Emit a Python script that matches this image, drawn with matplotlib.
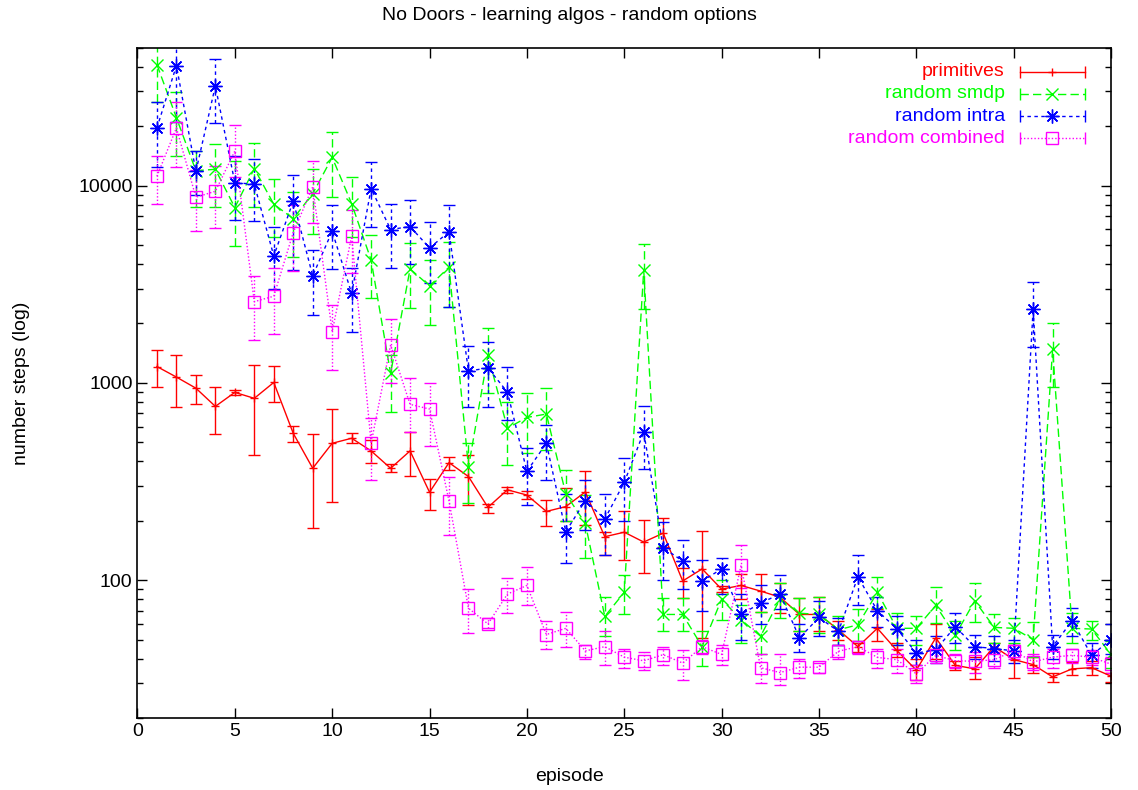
import matplotlib
matplotlib.use("Agg")
from matplotlib import pyplot as plt
from matplotlib.ticker import LogLocator, FixedLocator, NullFormatter, FuncFormatter
import numpy as np

episodes = list(range(1, 51))

# primitives
prim_mean = [1210, 1070, 940, 760, 895, 835, 1005, 555, 369, 494,
             524, 452, 369, 452, 279, 394, 335, 234, 287, 270,
             223, 236, 280, 166, 175, 156, 173, 99, 114, 90,
             94, 88, 82, 67, 67, 56, 46, 57, 44, 35,
             51, 37, 35.5, 46, 39.6, 37.3, 32.3, 35.5, 36, 32.6]
prim_lo = [957, 757, 778, 553, 866, 431, 797, 504, 183, 249,
           494, 391, 353, 336, 226, 363, 239, 218, 276, 258,
           188, 200, 191, 134, 126, 109, 148, 81, 51, 87,
           80, 69, 68, 55, 55, 50, 43, 49, 41, 31,
           40, 35, 31.5, 43, 32, 34, 30.5, 33, 33, 30.5]
prim_hi = [1466, 1383, 1095, 952, 918, 1232, 1211, 607, 553, 737,
           555, 514, 386, 561, 326, 421, 431, 243, 296, 282,
           255, 292, 358, 176, 224, 202, 207, 115, 178, 93,
           108, 108, 97, 81, 82, 62, 48, 71, 48, 40,
           60, 39, 41, 48, 47, 41, 34, 38.5, 39, 34]

# random smdp
smdp_mean = [41000, 22100, 11900, 12100, 7740, 12200, 8050, 6800, 9100, 13900,
             8100, 4190, 1117, 3780, 3100, 3860, 374, 1383, 589, 668,
             695, 273, 194, 65.5, 86.7, 3725, 67, 67, 46, 80,
             63, 52, 80, 68, 67, 56, 59.4, 86.7, 57, 57,
             74.5, 52.5, 78.6, 57.6, 57, 50, 1478, 57, 56.5, 42]
smdp_lo = [26500, 14200, 7800, 7800, 4950, 7800, 5500, 4350, 5700, 8770,
           5500, 2680, 714, 2390, 1960, 2430, 246, 892, 384, 440,
           457, 200, 130, 52, 67, 2356, 55, 55, 36.5, 63,
           48, 42, 64, 55, 54, 47, 49, 72, 47, 47,
           60.6, 44, 61, 48, 48, 41, 957, 48, 50, 36]
smdp_hi = [55000, 29800, 14900, 16300, 13400, 16500, 10800, 9300, 12200, 18700,
           11100, 5650, 1383, 5140, 4190, 5190, 494, 1888, 797, 892,
           938, 362, 270, 82, 106, 5050, 81, 81, 55, 100,
           75, 69, 97, 81, 82, 66, 71, 103.5, 68, 66,
           92, 62, 97, 67, 64, 61, 2000, 68, 62, 49]

# random intra
intra_mean = [19600, 40600, 11800, 32000, 10350, 10160, 4400, 8340, 3490, 5870,
              2840, 9660, 5990, 6200, 4830, 5830, 1148, 1190, 898, 356,
              494, 176, 253, 204, 313, 563, 146, 125, 99, 114,
              67, 76.5, 85, 51, 64.7, 55, 104, 70, 56.7, 42.7,
              44.3, 58.2, 46, 45, 43.8, 2365, 46, 62.2, 41.6, 50]
intra_lo = [12400, 21000, 8930, 20800, 6670, 6590, 3000, 3725, 2200, 3770,
            1820, 6180, 3800, 4000, 3200, 2430, 758, 758, 648, 240,
            322, 122, 180, 134, 200, 366, 100, 90, 70, 85,
            50, 60, 71, 43, 52, 47, 75, 58, 47, 37,
            38, 48, 40, 39, 38, 1513, 40, 52, 36, 42]
intra_hi = [26500, 55000, 14900, 43600, 14200, 13700, 6180, 11300, 4740, 7950,
            3830, 13200, 8110, 8430, 6550, 7950, 1535, 1617, 1208, 466,
            612, 272, 320, 272, 415, 767, 198, 160, 127, 130,
            85, 95, 106, 60, 78, 64, 134, 82, 66, 50,
            52, 68, 53, 52, 50, 3230, 53, 72, 48, 60]

# random combined
comb_mean = [11150, 19600, 8730, 9360, 14960, 2580, 2750, 5780, 9850, 1817,
             5540, 494, 1560, 778, 737, 252, 72, 60, 85, 94,
             53, 57, 43.8, 46, 40.7, 39, 41.9, 38, 46, 42,
             119, 36, 34, 36.2, 36.2, 43.6, 46, 40.6, 39.5, 33.5,
             41.6, 39, 38.8, 39.5, 43.8, 38.5, 40.7, 41.6, 40.7, 37.5]
comb_lo = [8110, 12400, 5900, 6100, 11000, 1650, 1760, 3700, 6500, 1160,
           3600, 322, 1000, 566, 481, 170, 54, 57, 68, 75,
           45, 46, 40, 37, 36, 35, 37, 31, 42, 37,
           91, 30, 29.5, 32, 34, 40, 42, 36, 34, 30,
           38, 36, 34, 36, 40, 35, 36, 38, 37, 34]
comb_hi = [14100, 26500, 11960, 12500, 20400, 3490, 3830, 7950, 13300, 2480,
           7500, 667, 2100, 1062, 1002, 335, 90, 64, 102, 117,
           62, 69, 47, 55, 45, 43, 46, 44, 50, 47,
           151, 42, 42, 40, 38, 47, 49, 45, 45, 37,
           45, 42, 43, 43, 47, 42, 45, 45, 44, 41]

labels = ['primitives', 'random smdp', 'random intra', 'random combined']


def main():
    plt.rcParams['font.family'] = ['Liberation Sans', 'DejaVu Sans']
    fig = plt.figure(figsize=(11.38, 7.90), dpi=100)
    ax = fig.add_axes([0.1208, 0.0911, 0.8555, 0.8485])

    asterisk = (8, 2, 0)
    series = [
        (labels[0], prim_mean, prim_lo, prim_hi, '#ff0000', '-', '+', 6),
        (labels[1], smdp_mean, smdp_lo, smdp_hi, '#00ff00', (0, (6, 3)), 'x', 8),
        (labels[2], intra_mean, intra_lo, intra_hi, '#0000ff', (0, (2.5, 2.5)), asterisk, 10),
        (labels[3], comb_mean, comb_lo, comb_hi, '#ff00ff', (0, (1, 1.5)), 's', 8),
    ]

    for label, mean, lo, hi, color, ls, marker, ms in series:
        m = np.array(mean, dtype=float)
        yerr = [m - np.array(lo, dtype=float), np.array(hi, dtype=float) - m]
        line, caps, bars = ax.errorbar(episodes, m, yerr=yerr, color=color, linestyle=ls,
                                       linewidth=1, marker=marker, markersize=ms,
                                       markerfacecolor='none', markeredgewidth=1,
                                       capsize=4, elinewidth=1, capthick=1)
        for b in bars:
            b.set_linestyle(ls)

    # key in the upper right, gnuplot style
    for i, (label, mean, lo, hi, color, ls, marker, ms) in enumerate(series):
        yy = 0.964 - i * 0.033
        ax.text(0.891, yy, label, color=color, ha='right', va='center',
                transform=ax.transAxes, fontsize=14)
        ax.plot([0.906, 0.939, 0.973], [yy] * 3, transform=ax.transAxes, color=color,
                linestyle=ls, linewidth=1, marker=marker, markevery=[1], markersize=ms,
                markerfacecolor='none', clip_on=False)
        ax.plot([0.906, 0.973], [yy] * 2, transform=ax.transAxes, linestyle='none',
                marker='|', markersize=8, color=color, clip_on=False)

    ax.set_xlim(0, 50)
    ax.set_xticks(range(0, 51, 5))
    ax.set_yscale('log')
    ax.set_ylim(20, 50000)
    ax.yaxis.set_major_locator(FixedLocator([100, 1000, 10000]))
    ax.yaxis.set_major_formatter(FuncFormatter(lambda v, p: '%d' % v))
    ax.yaxis.set_minor_locator(LogLocator(base=10, subs=np.arange(2, 10)))
    ax.yaxis.set_minor_formatter(NullFormatter())
    ax.tick_params(which='both', direction='in', top=True, right=True, labelsize=14)
    ax.tick_params(which='major', length=7, width=1)
    ax.tick_params(which='minor', length=4, width=1)
    for sp in ax.spines.values():
        sp.set_linewidth(1.2)

    fig.text(0.5, 0.980, 'No Doors - learning algos - random options', ha='center',
             va='center', fontsize=14)
    fig.text(0.5, 0.017, 'episode', ha='center', va='center', fontsize=14)
    fig.text(0.019, 0.515, 'number steps (log)', ha='center', va='center',
             rotation=90, fontsize=14)

    fig.savefig('out.png', dpi=100)


if __name__ == "__main__":
    main()
